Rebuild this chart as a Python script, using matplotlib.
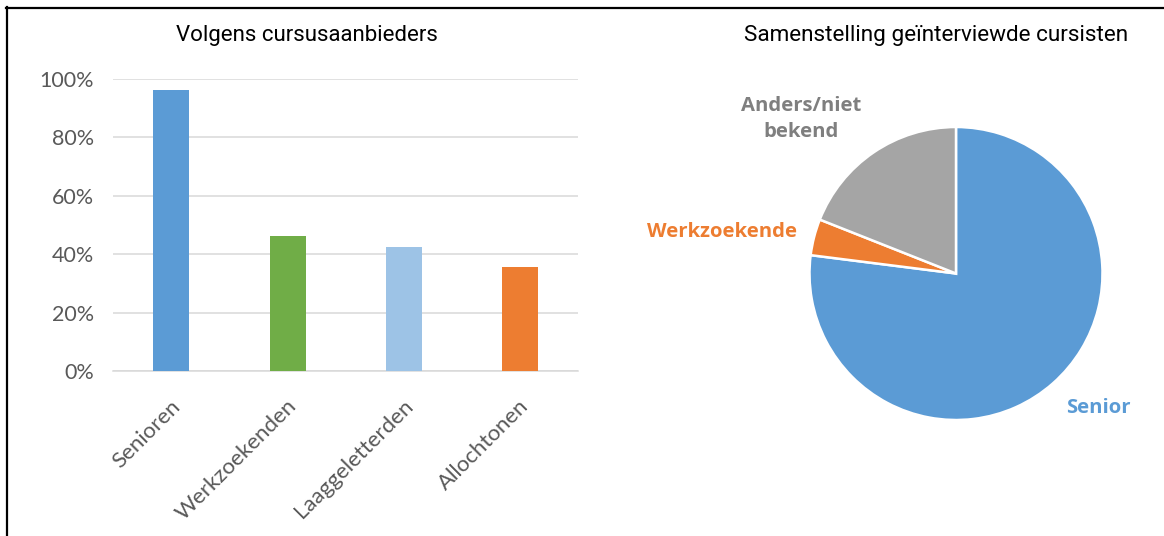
import matplotlib
matplotlib.use("Agg")
import matplotlib.pyplot as plt
import matplotlib.transforms as mtransforms
from matplotlib.lines import Line2D

# ---- data ----
bar_categories = ["Senioren", "Werkzoekenden", "Laaggeletterden", "Allochtonen"]
bar_values = [0.963, 0.462, 0.426, 0.355]
bar_colors = ["#5B9BD5", "#70AD47", "#9DC3E6", "#ED7D31"]
y_ticks = [0, 0.2, 0.4, 0.6, 0.8, 1.0]
y_tick_labels = ["0%", "20%", "40%", "60%", "80%", "100%"]

pie_labels = ["Senior", "Werkzoekende", "Anders/niet\nbekend"]
pie_values = [77, 4, 19]
pie_colors = ["#5B9BD5", "#ED7D31", "#A5A5A5"]
pie_label_colors = ["#5B9BD5", "#ED7D31", "#7F7F7F"]
pie_label_pos = [(0.97, -0.92), (-1.60, 0.285), (-1.055, 1.056)]

bar_title = "Volgens cursusaanbieders"
pie_title = "Samenstelling geïnterviewde cursisten"

W, H = 1164, 536
fig = plt.figure(figsize=(W / 100, H / 100), dpi=100)
fig.patch.set_facecolor("white")

def px(l, t, r, b):
    return [l / W, 1 - b / H, (r - l) / W, (b - t) / H]

# ---- bar chart ----
ax = fig.add_axes(px(113.3, 79, 577.9, 371))
x = range(len(bar_categories))
ax.bar(x, bar_values, width=0.31, color=bar_colors, zorder=3)
ax.set_xlim(-0.5, len(bar_categories) - 0.5)
ax.set_ylim(0, 1.0)
ax.set_yticks(y_ticks)
ax.set_yticklabels(y_tick_labels)
ax.yaxis.grid(True, color="#D9D9D9", linewidth=1.1, zorder=0)
ax.set_axisbelow(True)
for s in ["top", "right", "left"]:
    ax.spines[s].set_visible(False)
ax.spines["bottom"].set_color("#D9D9D9")
ax.spines["bottom"].set_linewidth(1.1)
ax.tick_params(axis="y", length=0, pad=14, labelsize=15.5, labelcolor="#595959")
ax.tick_params(axis="x", length=0, pad=18, labelsize=16, labelcolor="#595959")
ax.set_xticks(list(x))
ax.set_xticklabels(bar_categories, rotation=45, ha="right", va="top",
                   rotation_mode="anchor")
offset = mtransforms.ScaledTranslation(-1 / 100, 0, fig.dpi_scale_trans)
for lab in ax.get_xticklabels():
    lab.set_transform(lab.get_transform() + offset)
for lab in ax.get_xticklabels() + ax.get_yticklabels():
    lab.set_family("Lato")

fig.text(306.5 / W, 1 - 35 / H, bar_title, ha="center", va="center",
         fontsize=16, color="#000000", family="Roboto")

# ---- pie chart ----
r = 146.5
cx, cy = 956, 273.5
half = 1.25 * r
pax = fig.add_axes(px(cx - half, cy - half, cx + half, cy + half))
wedges, texts = pax.pie(pie_values, labels=pie_labels, colors=pie_colors,
                        startangle=90, counterclock=False,
                        wedgeprops=dict(edgecolor="white", linewidth=1.8))
pax.set_xlim(-1.25, 1.25)
pax.set_ylim(-1.25, 1.25)
for t, c, pos in zip(texts, pie_label_colors, pie_label_pos):
    t.set_position(pos)
    t.set_ha("center")
    t.set_va("center")
    t.set_color(c)
    t.set_fontsize(14.6)
    t.set_fontweight("bold")
    t.set_family("Open Sans")
    t.set_linespacing(1.4)

fig.text(936 / W, 1 - 35 / H, pie_title, ha="center", va="center",
         fontsize=16.2, color="#000000", family="Roboto")

# ---- frame lines (top and left) ----
fig.add_artist(Line2D([6 / W, 1.0], [1 - 7.5 / H, 1 - 7.5 / H],
                      color="black", linewidth=1.6, transform=fig.transFigure))
fig.add_artist(Line2D([7 / W, 7 / W], [0, 1 - 6.5 / H],
                      color="black", linewidth=1.6, transform=fig.transFigure))

fig.savefig("out.png", dpi=100, facecolor="white")
